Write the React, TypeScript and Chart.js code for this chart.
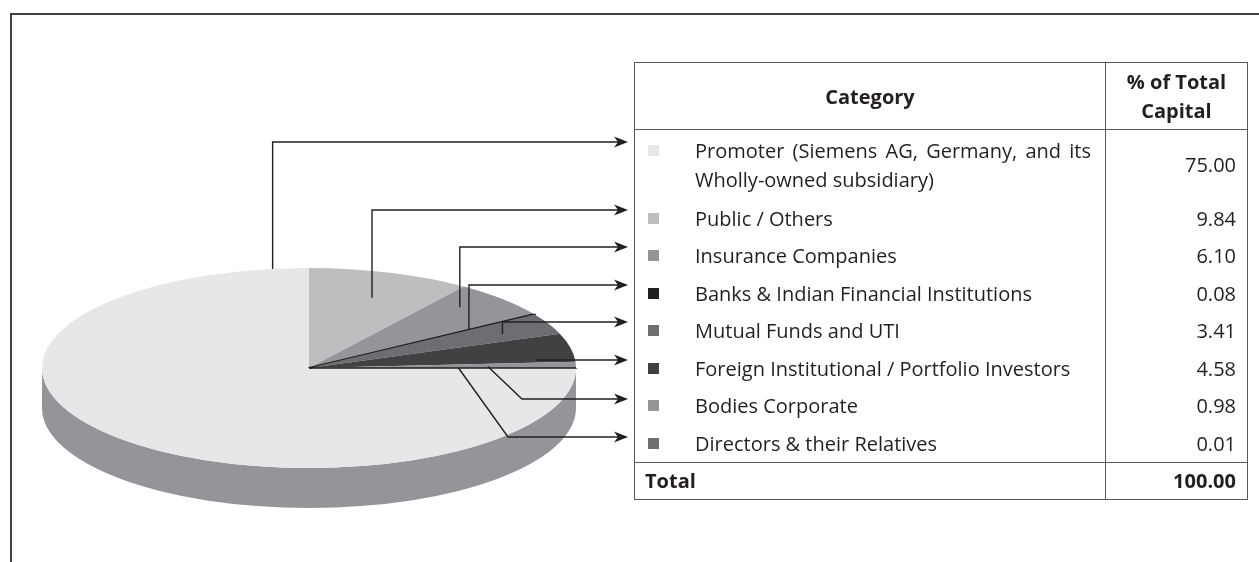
import React, { useEffect, useRef } from 'react';
import { Chart, registerables } from 'chart.js';

Chart.register(...registerables);

// ---------- data ----------
const categories = [
  'Promoter (Siemens AG, Germany, and its\nWholly-owned subsidiary)',
  'Public / Others',
  'Insurance Companies',
  'Banks & Indian Financial Institutions',
  'Mutual Funds and UTI',
  'Foreign Institutional / Portfolio Investors',
  'Bodies Corporate',
  'Directors & their Relatives',
];
const shares = [75.0, 9.84, 6.1, 0.08, 3.41, 4.58, 0.98, 0.01];
const shareLabels = ['75.00', '9.84', '6.10', '0.08', '3.41', '4.58', '0.98', '0.01'];
const headerLabels = ['Category', '% of Total\nCapital'];
const totalLabels = ['Total', '100.00'];

// ---------- styles / layout ----------
const sliceColors = ['#e6e7e8', '#bcbec0', '#939598', '#231f20', '#6d6e71', '#414042', '#939598', '#6d6e71'];
const sideColors = ['#939598', '#7a7b7e', '#5e5f62', '#161314', '#46474a', '#2a292b', '#5e5f62', '#46474a'];
const borderWidths = [0, 0, 0, 4, 0, 0, 0, 4];
const borderColors = ['#e6e7e8', '#bcbec0', '#939598', '#231f20', '#6d6e71', '#414042', '#939598', '#231f20'];

const W = 1259;
const H = 562;
const PIE_CX = 309;
const PIE_CY = 368;
const PIE_R = 267;
const PIE_RY = 100;
const PIE_DEPTH = 40;
const ARROW_TIP_X = 628;
const INK = '#231f20';
const FONT = '"Open Sans", "Noto Sans", sans-serif';
const RULE = '1.5px solid #58595b';

// leader lines: position inside slice (angle fraction f, radius fraction rf), routing
const leaders = [
  { f: 0.971, rf: 1.0, kind: 'up', y: 142 },
  { f: 0.525, rf: 0.74, kind: 'up', y: 210 },
  { f: 0.34, rf: 0.83, kind: 'up', y: 247 },
  { f: 0.5, rf: 0.71, kind: 'up', y: 285 },
  { f: 0.59, rf: 0.8, kind: 'up', y: 322 },
  { f: 0.89, rf: 0.854, kind: 'flat', y: 0 },
  { f: 0.64, rf: 0.67, kind: 'diag', y: 399, elbowX: 522 },
  { f: 0.5, rf: 0.56, kind: 'diag', y: 437, elbowX: 508 },
];

const pie3d = {
  id: 'pie3d',
  beforeDatasetsDraw(chart: any) {
    const arcs = chart.getDatasetMeta(0).data;
    if (!arcs.length) return;
    const { x: cx, y: cy, outerRadius: r } = arcs[0].getProps(['x', 'y', 'outerRadius'], true);
    const k = PIE_RY / r;
    const ctx = chart.ctx;
    ctx.save();
    arcs.forEach((arc: any, i: number) => {
      const { startAngle: s, endAngle: e } = arc.getProps(['startAngle', 'endAngle'], true);
      const a = Math.max(s, 0);
      const b = Math.min(e, Math.PI);
      if (b <= a) return;
      ctx.beginPath();
      ctx.ellipse(cx, cy, r, r * k, 0, a, b, false);
      ctx.ellipse(cx, cy + PIE_DEPTH, r, r * k, 0, b, a, true);
      ctx.closePath();
      ctx.fillStyle = sideColors[i];
      ctx.fill();
    });
    ctx.translate(0, cy);
    ctx.scale(1, k);
    ctx.translate(0, -cy);
  },
  afterDatasetsDraw(chart: any) {
    chart.ctx.restore();
  },
  afterDraw(chart: any) {
    const arcs = chart.getDatasetMeta(0).data;
    if (!arcs.length) return;
    const { x: cx, y: cy, outerRadius: r } = arcs[0].getProps(['x', 'y', 'outerRadius'], true);
    const k = PIE_RY / r;
    const ctx = chart.ctx;
    ctx.save();
    ctx.strokeStyle = INK;
    ctx.fillStyle = INK;
    ctx.lineWidth = 1.4;
    leaders.forEach((L: any, i: number) => {
      const { startAngle: s, endAngle: e } = arcs[i].getProps(['startAngle', 'endAngle'], true);
      const t = s + L.f * (e - s);
      const ax = cx + r * L.rf * Math.cos(t);
      const ay = cy + r * k * L.rf * Math.sin(t);
      let ty = ay;
      ctx.beginPath();
      ctx.moveTo(ax, ay);
      if (L.kind === 'up') {
        ctx.lineTo(ax, L.y);
        ty = L.y;
      } else if (L.kind === 'diag') {
        ctx.lineTo(L.elbowX, L.y);
        ty = L.y;
      }
      ctx.lineTo(ARROW_TIP_X - 8, ty);
      ctx.stroke();
      ctx.beginPath();
      ctx.moveTo(ARROW_TIP_X, ty);
      ctx.lineTo(ARROW_TIP_X - 14, ty - 5.5);
      ctx.lineTo(ARROW_TIP_X - 10, ty);
      ctx.lineTo(ARROW_TIP_X - 14, ty + 5.5);
      ctx.closePath();
      ctx.fill();
    });
    ctx.restore();
  },
};

export default function App() {
  const canvasRef = useRef<HTMLCanvasElement | null>(null);

  useEffect(() => {
    const canvas = canvasRef.current;
    if (!canvas) return;
    const chart = new Chart(canvas, {
      type: 'pie',
      data: {
        labels: categories.map((c) => c.replace('\n', ' ')),
        datasets: [
          {
            data: shares,
            backgroundColor: sliceColors,
            borderColor: borderColors,
            borderWidth: borderWidths,
            clip: false,
          } as any,
        ],
      },
      options: {
        animation: false,
        responsive: false,
        devicePixelRatio: 1,
        events: [],
        rotation: 90,
        radius: PIE_R,
        layout: {
          padding: { left: 0, right: W - 2 * PIE_CX, top: PIE_CY - (H - PIE_CY), bottom: 0 },
        },
        plugins: {
          legend: { display: false },
          tooltip: { enabled: false },
        },
      } as any,
      plugins: [pie3d],
    });
    return () => chart.destroy();
  }, []);

  const cellText: React.CSSProperties = { lineHeight: '29px' };

  return (
    <div
      style={{
        position: 'fixed',
        left: 0,
        top: 0,
        width: W,
        height: H,
        overflow: 'hidden',
        background: '#ffffff',
        fontFamily: FONT,
        color: INK,
      }}
    >
      <div
        style={{
          position: 'absolute',
          left: 10,
          top: 13,
          width: W - 10,
          height: H,
          borderTop: '2px solid #404040',
          borderLeft: '2px solid #404040',
          boxSizing: 'border-box',
        }}
      />
      <canvas
        ref={canvasRef}
        width={W}
        height={H}
        style={{ position: 'absolute', left: 0, top: 0, width: W, height: H }}
      />
      <table
        style={{
          position: 'absolute',
          left: 634,
          top: 62,
          width: 613,
          borderCollapse: 'collapse',
          tableLayout: 'fixed',
          border: RULE,
          fontFamily: FONT,
          fontSize: 20,
          color: INK,
        }}
      >
        <colgroup>
          <col style={{ width: 471 }} />
          <col style={{ width: 142 }} />
        </colgroup>
        <thead>
          <tr style={{ height: 67 }}>
            {headerLabels.map((h, i) => (
              <th
                key={i}
                style={{
                  borderBottom: RULE,
                  borderRight: RULE,
                  padding: 0,
                  fontWeight: 700,
                  textAlign: 'center',
                  verticalAlign: 'middle',
                  ...cellText,
                }}
              >
                {h.split('\n').map((ln, j) => (
                  <div key={j}>{ln}</div>
                ))}
              </th>
            ))}
          </tr>
        </thead>
        <tbody>
          {categories.map((cat, i) => {
            const lines = cat.split('\n');
            return (
              <tr key={i} style={{ height: lines.length > 1 ? 70 : 37.5 }}>
                <td style={{ borderRight: RULE, padding: '0 14px 0 13px', verticalAlign: 'middle' }}>
                  <div style={{ display: 'flex', alignItems: 'flex-start' }}>
                    <div
                      style={{
                        flex: '0 0 11px',
                        width: 11,
                        height: 11,
                        marginTop: 9,
                        background: sliceColors[i],
                      }}
                    />
                    <div style={{ marginLeft: 36, flex: 1, ...cellText }}>
                      {lines.map((ln, j) => (
                        <div
                          key={j}
                          style={{
                            textAlign: 'justify',
                            textAlignLast: j < lines.length - 1 ? 'justify' : 'left',
                          } as React.CSSProperties}
                        >
                          {ln}
                        </div>
                      ))}
                    </div>
                  </div>
                </td>
                <td style={{ textAlign: 'right', padding: '0 11px 0 0', verticalAlign: 'middle', ...cellText }}>
                  {shareLabels[i]}
                </td>
              </tr>
            );
          })}
          <tr style={{ height: 37 }}>
            <td
              style={{
                borderTop: RULE,
                borderRight: RULE,
                padding: '0 0 0 10px',
                fontWeight: 700,
                verticalAlign: 'middle',
                ...cellText,
              }}
            >
              {totalLabels[0]}
            </td>
            <td
              style={{
                borderTop: RULE,
                padding: '0 11px 0 0',
                textAlign: 'right',
                fontWeight: 700,
                verticalAlign: 'middle',
                ...cellText,
              }}
            >
              {totalLabels[1]}
            </td>
          </tr>
        </tbody>
      </table>
    </div>
  );
}
